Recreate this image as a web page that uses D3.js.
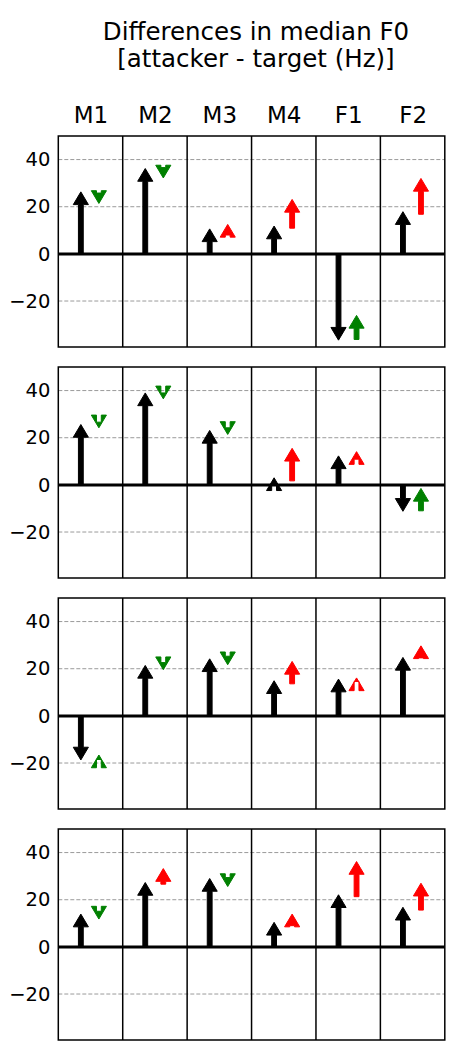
<!DOCTYPE html>
<html>
<head>
<meta charset="utf-8">
<script src="https://cdn.jsdelivr.net/npm/d3@7"></script>
<style>
  body { margin: 0; background: #fff; }
  text { font-family: "DejaVu Sans", sans-serif; }
</style>
</head>
<body>
<div id="chart"></div>
<script>
// speakers (columns)
const speakers = ["M1", "M2", "M3", "M4", "F1", "F2"];
const yTicks = [-20, 0, 20, 40];

// black arrows: difference before (from 0), one row per panel
const baseDiff = [
  [26.3, 36.2, 10.6, 11.8, -36.6, 17.9],
  [25.6, 39.0, 23.1, 3.0, 12.3, -11.2],
  [-18.7, 21.4, 24.2, 14.9, 15.6, 24.8],
  [13.9, 27.3, 29.0, 10.4, 22.1, 16.8]
];
// coloured arrows: start and end value
const shiftStart = [
  [25.8, 36.6, 8.0, 10.9, -36.3, 16.8],
  [26.6, 39.0, 24.2, 1.7, 10.9, -11.0],
  [-18.5, 22.6, 25.3, 13.6, 14.6, 24.6],
  [15.1, 26.6, 29.4, 9.0, 21.3, 15.6]
];
const shiftEnd = [
  [21.4, 32.2, 12.5, 23.1, -26.1, 32.0],
  [24.2, 36.5, 21.4, 15.5, 14.1, -1.5],
  [-16.6, 19.6, 21.7, 23.1, 16.1, 29.7],
  [11.8, 33.2, 25.6, 13.9, 36.2, 27.0]
];

const W = 450, H = 1050;
const left = 58.3, right = 444.8;
const panelTop0 = 136, panelH = 211, panelStep = 231;

const svg = d3.select("#chart").append("svg")
    .attr("width", W)
    .attr("height", H);

// title, two lines
svg.append("text")
    .attr("x", 256).attr("y", 40)
    .attr("text-anchor", "middle")
    .attr("font-size", 24.5)
    .text("Differences in median F0");
svg.append("text")
    .attr("x", 256).attr("y", 66.5)
    .attr("text-anchor", "middle")
    .attr("font-size", 24.5)
    .text("[attacker - target (Hz)]");

const x = d3.scaleLinear().domain([-0.5, 5.5]).range([left, right]);

// arrow sizes (like plt.arrow, length includes head)
const shaftW = 0.075, headW = 0.235, headL = 5.4;

function arrowPath(xc, y0, y1, y) {
  // points along the arrow in local coords, then mapped to screen
  const L = Math.abs(y1 - y0);
  const dir = y1 >= y0 ? 1 : -1;
  const lw = (x(shaftW) - x(0)) / 2;
  const hw = (x(headW) - x(0)) / 2;
  const pts = [
    [0, 0], [-headL, -hw], [-headL, -lw], [-L, -lw],
    [-L, lw], [-headL, lw], [-headL, hw]
  ];
  const p = pts.map(([s, t]) => [xc + t, y(y1 + dir * s)]);
  return "M" + p.map(d => d.join(",")).join("L") + "Z";
}

baseDiff.forEach((row, pi) => {
  const top = panelTop0 + pi * panelStep;
  const y = d3.scaleLinear().domain([-39.5, 50]).range([top + panelH, top]);
  const g = svg.append("g");

  // dashed grid
  g.selectAll("line.grid")
    .data(yTicks.filter(v => v !== 0))
    .join("line")
      .attr("class", "grid")
      .attr("x1", left).attr("x2", right)
      .attr("y1", d => y(d)).attr("y2", d => y(d))
      .attr("stroke", "#9a9a9a")
      .attr("stroke-width", 1)
      .attr("stroke-dasharray", "4,2");

  // column separators
  g.selectAll("line.sep")
    .data(d3.range(1, speakers.length))
    .join("line")
      .attr("class", "sep")
      .attr("x1", d => x(d - 0.5)).attr("x2", d => x(d - 0.5))
      .attr("y1", top).attr("y2", top + panelH)
      .attr("stroke", "#000")
      .attr("stroke-width", 1.5);

  // zero line
  g.append("line")
    .attr("x1", left).attr("x2", right)
    .attr("y1", y(0)).attr("y2", y(0))
    .attr("stroke", "#000")
    .attr("stroke-width", 3);

  // black arrows
  g.selectAll("path.base")
    .data(row)
    .join("path")
      .attr("class", "base")
      .attr("d", (d, i) => arrowPath(x(i - 0.15), 0, d, y))
      .attr("fill", "#000")
      .attr("stroke", "#000")
      .attr("stroke-width", 1)
      .attr("stroke-linejoin", "round");

  // coloured arrows: green if moving towards zero, red if away
  const shifts = shiftStart[pi].map((s, i) => ({s: s, e: shiftEnd[pi][i], i: i}));
  g.selectAll("path.shift")
    .data(shifts)
    .join("path")
      .attr("class", "shift")
      .attr("d", d => arrowPath(x(d.i + 0.13), d.s, d.e, y))
      .attr("fill", d => Math.abs(d.e) < Math.abs(d.s) ? "#008000" : "#ff0000")
      .attr("stroke", d => Math.abs(d.e) < Math.abs(d.s) ? "#008000" : "#ff0000")
      .attr("stroke-width", 1)
      .attr("stroke-linejoin", "round");

  // frame
  g.append("rect")
    .attr("x", left).attr("y", top)
    .attr("width", right - left).attr("height", panelH)
    .attr("fill", "none")
    .attr("stroke", "#000")
    .attr("stroke-width", 1.5);

  // y axis labels
  const yAxis = g.append("g")
    .attr("transform", `translate(${left},0)`)
    .call(d3.axisLeft(y).tickValues(yTicks).tickSize(0).tickPadding(8));
  yAxis.select(".domain").remove();
  yAxis.selectAll("text")
    .attr("font-size", 19.5)
    .attr("font-family", "DejaVu Sans, sans-serif")
    .attr("fill", "#000");

  // speaker labels above first panel
  if (pi === 0) {
    const xAxis = g.append("g")
      .attr("transform", `translate(0,${top})`)
      .call(d3.axisTop(x).tickValues(d3.range(speakers.length))
        .tickFormat(i => speakers[i]).tickSize(0).tickPadding(13));
    xAxis.select(".domain").remove();
    xAxis.selectAll("text")
      .attr("font-size", 23)
      .attr("font-family", "DejaVu Sans, sans-serif")
      .attr("fill", "#000");
  }
});
</script>
</body>
</html>
